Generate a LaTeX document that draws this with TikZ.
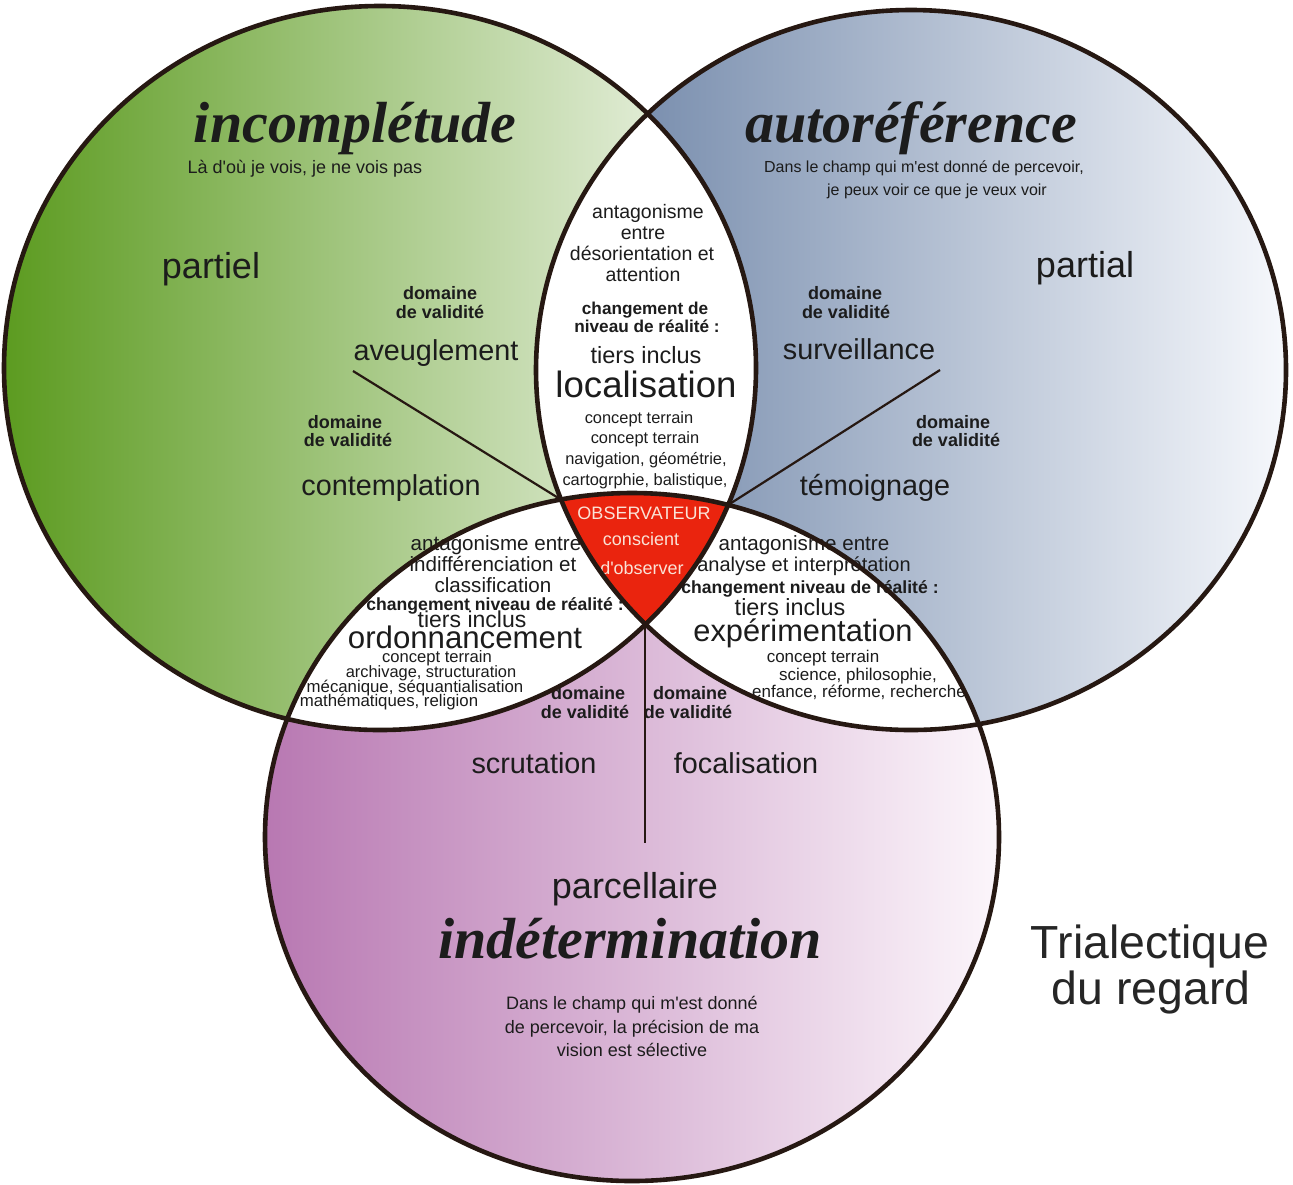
\documentclass[tikz,border=0pt]{standalone}
\usepackage{fontspec}
\setmainfont{Liberation Sans}[Ligatures=TeXOff]
\newfontfamily\titlefont{Liberation Serif}
\definecolor{gL}{RGB}{92,155,32}
\definecolor{gR}{RGB}{246,249,242}
\definecolor{bL}{RGB}{102,126,162}
\definecolor{bR}{RGB}{246,248,252}
\definecolor{pL}{RGB}{184,120,178}
\definecolor{pR}{RGB}{252,246,251}
\definecolor{obsred}{RGB}{234,36,14}
\definecolor{edge}{RGB}{38,24,18}
\definecolor{ink}{RGB}{28,28,28}
\definecolor{obstext}{RGB}{250,226,214}
\newcommand{\fsz}[1]{\fontsize{#1pt}{#1pt}\selectfont}
\begin{document}
\begin{tikzpicture}[x=0.5pt,y=-0.5pt,
  gpath/.style={insert path={(380,368) ellipse [x radius=188pt, y radius=181pt]}},
  bpath/.style={insert path={(911,370) ellipse [x radius=187.5pt, y radius=180pt]}},
  ppath/.style={insert path={(632,837) ellipse [x radius=183.5pt, y radius=172pt]}},
  txt/.style={anchor=base, inner sep=0pt, text=ink},
  ttl/.style={txt, font=\titlefont\bfseries\itshape\fsz{29}},
  big/.style={txt, font=\fsz{18}},
  mid/.style={txt, font=\fsz{14.4}},
  dom/.style={txt, font=\bfseries\fsz{9}},
  obs/.style={anchor=base, inner sep=0pt, text=obstext, font=\fsz{9}},
  ray/.style={draw=edge, line width=1.1pt},
  outline/.style={draw=edge, line width=2.3pt}
]
\useasboundingbox (0,0) rectangle (1293,1184);
\fill[white] (0,0) rectangle (1293,1184);

% coloured discs
\shade[left color=gL, right color=gR, gpath];
\shade[left color=bL, right color=bR, bpath];
\shade[left color=pL, right color=pR, ppath];

% white pairwise intersections
\begin{scope}
  \clip[gpath];
  \fill[white, bpath];
  \fill[white, ppath];
\end{scope}
\begin{scope}
  \clip[bpath];
  \fill[white, ppath];
\end{scope}

% titles and descriptions
\node[ttl] (t1) at (355,142) {incomplétude};
\node[ttl] (t2) at (911,142) {autoréférence};
\node[ttl] (t3) at (630,958) {indétermination};
\node[txt, font=\fsz{9}] (d1) at (305,173) {Là d'où je vois, je ne vois pas};
\node[txt, font=\fsz{8}] (d2a) at (924,172) {Dans le champ qui m'est donné de percevoir,};
\node[txt, font=\fsz{8}] (d2b) at (937,195) {je peux voir ce que je veux voir};
\node[txt, font=\fsz{9}] (d3a) at (632,1009) {Dans le champ qui m'est donné};
\node[txt, font=\fsz{9}] (d3b) at (632,1033) {de percevoir, la précision de ma};
\node[txt, font=\fsz{9}] (d3c) at (632,1056) {vision est sélective};

% big words
\node[big] (w1) at (211,278) {partiel};
\node[big] (w2) at (1085,277) {partial};
\node[big] (w3) at (635,898) {parcellaire};

% middle labels
\node[mid] (m1) at (436,360) {aveuglement};
\node[mid] (m2) at (391,495) {contemplation};
\node[mid] (m3) at (859,359) {surveillance};
\node[mid] (m4) at (875,495) {témoignage};
\node[mid] (m5) at (534,773) {scrutation};
\node[mid] (m6) at (746,773) {focalisation};

% domaine de validite
\node[dom] (v1a) at (440,299) {domaine};
\node[dom] (v1b) at (440,318) {de validité};
\node[dom] (v2a) at (345,428) {domaine};
\node[dom] (v2b) at (348,446) {de validité};
\node[dom] (v3a) at (845,299) {domaine};
\node[dom] (v3b) at (846,318) {de validité};
\node[dom] (v4a) at (953,428) {domaine};
\node[dom] (v4b) at (956,446) {de validité};
\node[dom] (v5a) at (588,699) {domaine};
\node[dom] (v5b) at (585,718) {de validité};
\node[dom] (v6a) at (690,699) {domaine};
\node[dom] (v6b) at (688,718) {de validité};

% top lens
\node[txt, font=\fsz{9.75}] (a1) at (648,218) {antagonisme};
\node[txt, font=\fsz{9.75}] (a2) at (643,239) {entre};
\node[txt, font=\fsz{9.75}] (a3) at (642,260) {désorientation et};
\node[txt, font=\fsz{9.75}] (a4) at (643,281) {attention};
\node[txt, font=\bfseries\fsz{8.6}] (a5) at (645,314) {changement de};
\node[txt, font=\bfseries\fsz{8.6}] (a6) at (647,332) {niveau de réalité :};
\node[txt, font=\fsz{11.75}] (a7) at (646,363) {tiers inclus};
\node[txt, font=\fsz{18.3}] (a8) at (646,397) {localisation};
\node[txt, font=\fsz{8.2}] (a9) at (639,423) {concept terrain};
\node[txt, font=\fsz{8.2}] (a10) at (645,443) {concept terrain};
\node[txt, font=\fsz{8.2}] (a11) at (646,464) {navigation, géométrie,};
\node[txt, font=\fsz{8.2}] (a12) at (645,485) {cartogrphie, balistique,};

% lower-left lens
\node[txt, font=\fsz{10.3}] (l1) at (496,550) {antagonisme entre};
\node[txt, font=\fsz{10.3}] (l2) at (493,571) {indifférenciation et};
\node[txt, font=\fsz{10.3}] (l3) at (493,592) {classification};
\node[txt, font=\bfseries\fsz{8.8}] (l4) at (495,610) {changement niveau de réalité :};
\node[txt, font=\fsz{11.5}] (l5) at (472,627) {tiers inclus};
\node[txt, font=\fsz{15.6}] (l6) at (465,648) {ordonnancement};
\node[txt, font=\fsz{8.3}] (l7) at (437,662) {concept terrain};
\node[txt, font=\fsz{8.2}] (l8) at (431,677) {archivage, structuration};
\node[txt, font=\fsz{8.4}] (l9) at (415,692) {mécanique, séquantialisation};
\node[txt, font=\fsz{8.4}] (l10) at (389,706) {mathématiques, religion};

% lower-right lens
\node[txt, font=\fsz{10.3}] (r1) at (804,550) {antagonisme entre};
\node[txt, font=\fsz{10}] (r2) at (804,571) {analyse et interprétation};
\node[txt, font=\bfseries\fsz{8.8}] (r3) at (810,593) {changement niveau de réalité :};
\node[txt, font=\fsz{11.7}] (r4) at (790,615) {tiers inclus};
\node[txt, font=\fsz{15.4}] (r5) at (803,641) {expérimentation};
\node[txt, font=\fsz{8.5}] (r6) at (823,662) {concept terrain};
\node[txt, font=\fsz{8.5}] (r7) at (858,680) {science, philosophie,};
\node[txt, font=\fsz{8.5}] (r8) at (859,697) {enfance, réforme, recherche};

% red centre (all three)
\begin{scope}
  \clip[gpath];
  \clip[bpath];
  \fill[obsred, ppath];
\end{scope}
\node[obs] (o1) at (644,519) {OBSERVATEUR};
\node[obs] (o2) at (641,545) {conscient};
\node[obs] (o3) at (642,574) {d'observer};

% rays
\coordinate (vTL) at (560,499);
\coordinate (vTR) at (728,505);
\coordinate (vB) at (645,625);
\coordinate (rL) at (353,371);
\coordinate (rR) at (940,370);
\coordinate (rB) at (645,843);
\draw[ray] (rL) -- (vTL);
\draw[ray] (rR) -- (vTR);
\draw[ray] (vB) -- (rB);

% outlines
\path[outline, gpath];
\path[outline, bpath];
\path[outline, ppath];

% title
\node[txt, font=\fsz{23.2}, text=black!85] (tr1) at (1150,958) {Trialectique};
\node[txt, font=\fsz{23.2}, text=black!85] (tr2) at (1151,1004) {du regard};
\end{tikzpicture}
\end{document}
